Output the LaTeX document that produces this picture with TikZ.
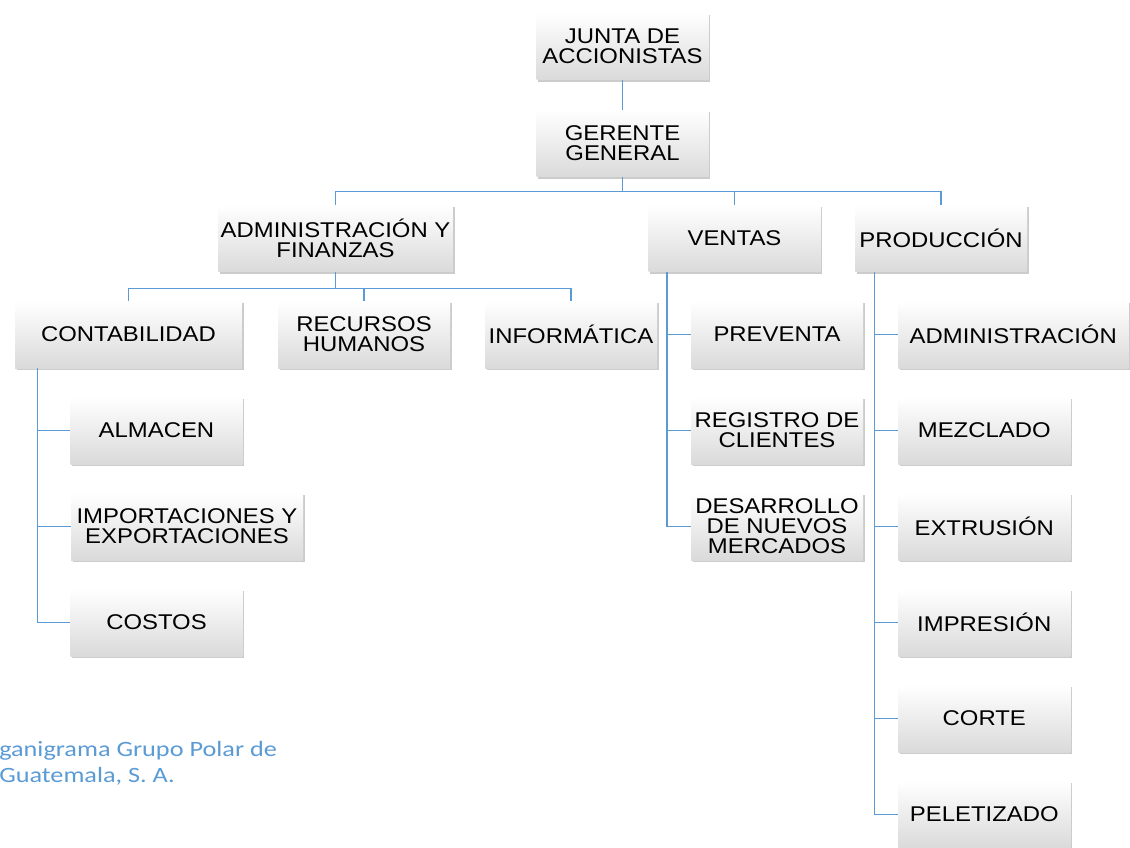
\documentclass[tikz,border=0pt]{standalone}
\usepackage{fontspec}
\setmainfont{Liberation Sans}[FakeStretch=1.12]
\newfontfamily\captionfont{Carlito}[FakeStretch=1.2]
\usepackage{tikz}
\usetikzlibrary{positioning, shadows, calc}

\definecolor{linkblue}{HTML}{5B9BD5}
\definecolor{boxgray}{HTML}{DADADA}

\tikzset{
  orgbox/.style={rectangle, minimum width=129pt, minimum height=50.25pt, inner sep=1pt,
    align=center, top color=white, bottom color=boxgray,
    drop shadow={shadow xshift=1.4pt, shadow yshift=-1.6pt, opacity=0.4},
    font=\fontsize{16}{15}\selectfont},
  link/.style={draw=linkblue, line width=1.1pt}
}

\begin{document}
\begin{tikzpicture}[x=0.75pt, y=-0.75pt]
        \useasboundingbox (0,0) rectangle (1130,848);

        % Define dimensions
        \def\rowstep{96} % vertical step between stacked boxes

        % Top of the chart
        \node[orgbox] (junta) at (622.5,46.5) {JUNTA DE\\ACCIONISTAS};
        \node[orgbox] (gerente) at (622.5,143.5) {GERENTE\\GENERAL};

        % Departments
        \node[orgbox, minimum width=176pt] (admin) at (335.5,238.5) {ADMINISTRACIÓN Y\\FINANZAS};
        \node[orgbox] (ventas) at (734.5,238.5) {VENTAS};
        \node[orgbox] (prod) at (941,238.5) {PRODUCCIÓN};

        % Administration and finance
        \node[orgbox, minimum width=170pt] (contab) at (128.5,334.5) {CONTABILIDAD};
        \node[orgbox] (rrhh) at (364,334.5) {RECURSOS\\HUMANOS};
        \node[orgbox] (info) at (571,334.5) {INFORMÁTICA};

        % Accounting column
        \node[orgbox] (almacen) at (156.5,430.5) {ALMACEN};
        \node[orgbox, minimum width=174pt] (import) at (187,526.5) {IMPORTACIONES Y\\EXPORTACIONES};
        \node[orgbox] (costos) at (156.5,622.5) {COSTOS};

        % Sales column
        \node[orgbox] (preventa) at (777,334.5) {PREVENTA};
        \node[orgbox] (registro) at (777,430.5) {REGISTRO DE\\CLIENTES};
        \node[orgbox] (desarrollo) at (777,526.5) {DESARROLLO\\DE NUEVOS\\MERCADOS};

        % Production column
        \foreach \name/\txt/\w [count=\i] in {admp/ADMINISTRACIÓN/172.5, mezclado/MEZCLADO/129,
            extrusion/EXTRUSIÓN/129, impresion/IMPRESIÓN/129, corte/CORTE/129, peletizado/PELETIZADO/129} {
            \node[orgbox, anchor=west, minimum width=\w pt] (\name) at (898, 334.5 + \i*\rowstep - \rowstep) {\txt};
        }

        % Connectors
        \draw[link] (junta) -- (gerente);
        \draw[link] (gerente.south) -- ++(0,14) coordinate (topbus);
        \foreach \n in {admin, ventas, prod} {
            \draw[link] (topbus) -| (\n.north);
        }

        \draw[link] (admin.south) -- ++(0,16) coordinate (adminbus);
        \foreach \n in {contab, rrhh, info} {
            \draw[link] (adminbus) -| (\n.north);
        }

        \coordinate (contabtrunk) at ([xshift=17pt]contab.south west);
        \foreach \n in {almacen, import, costos} {
            \draw[link] (contabtrunk) |- (\n.west);
        }

        \coordinate (ventastrunk) at ([xshift=14pt]ventas.south west);
        \foreach \n in {preventa, registro, desarrollo} {
            \draw[link] (ventastrunk) |- (\n.west);
        }

        \coordinate (prodtrunk) at ([xshift=15pt]prod.south west);
        \foreach \n in {admp, mezclado, extrusion, impresion, corte, peletizado} {
            \draw[link] (prodtrunk) |- (\n.west);
        }

        % Caption
        \node[anchor=north west, align=left, inner sep=0pt, text=linkblue,
            font=\captionfont\fontsize{16.4}{19.5}\selectfont] (caption) at (-1,741) {ganigrama Grupo Polar de\\Guatemala, S. A.};
    \end{tikzpicture}
\end{document}
